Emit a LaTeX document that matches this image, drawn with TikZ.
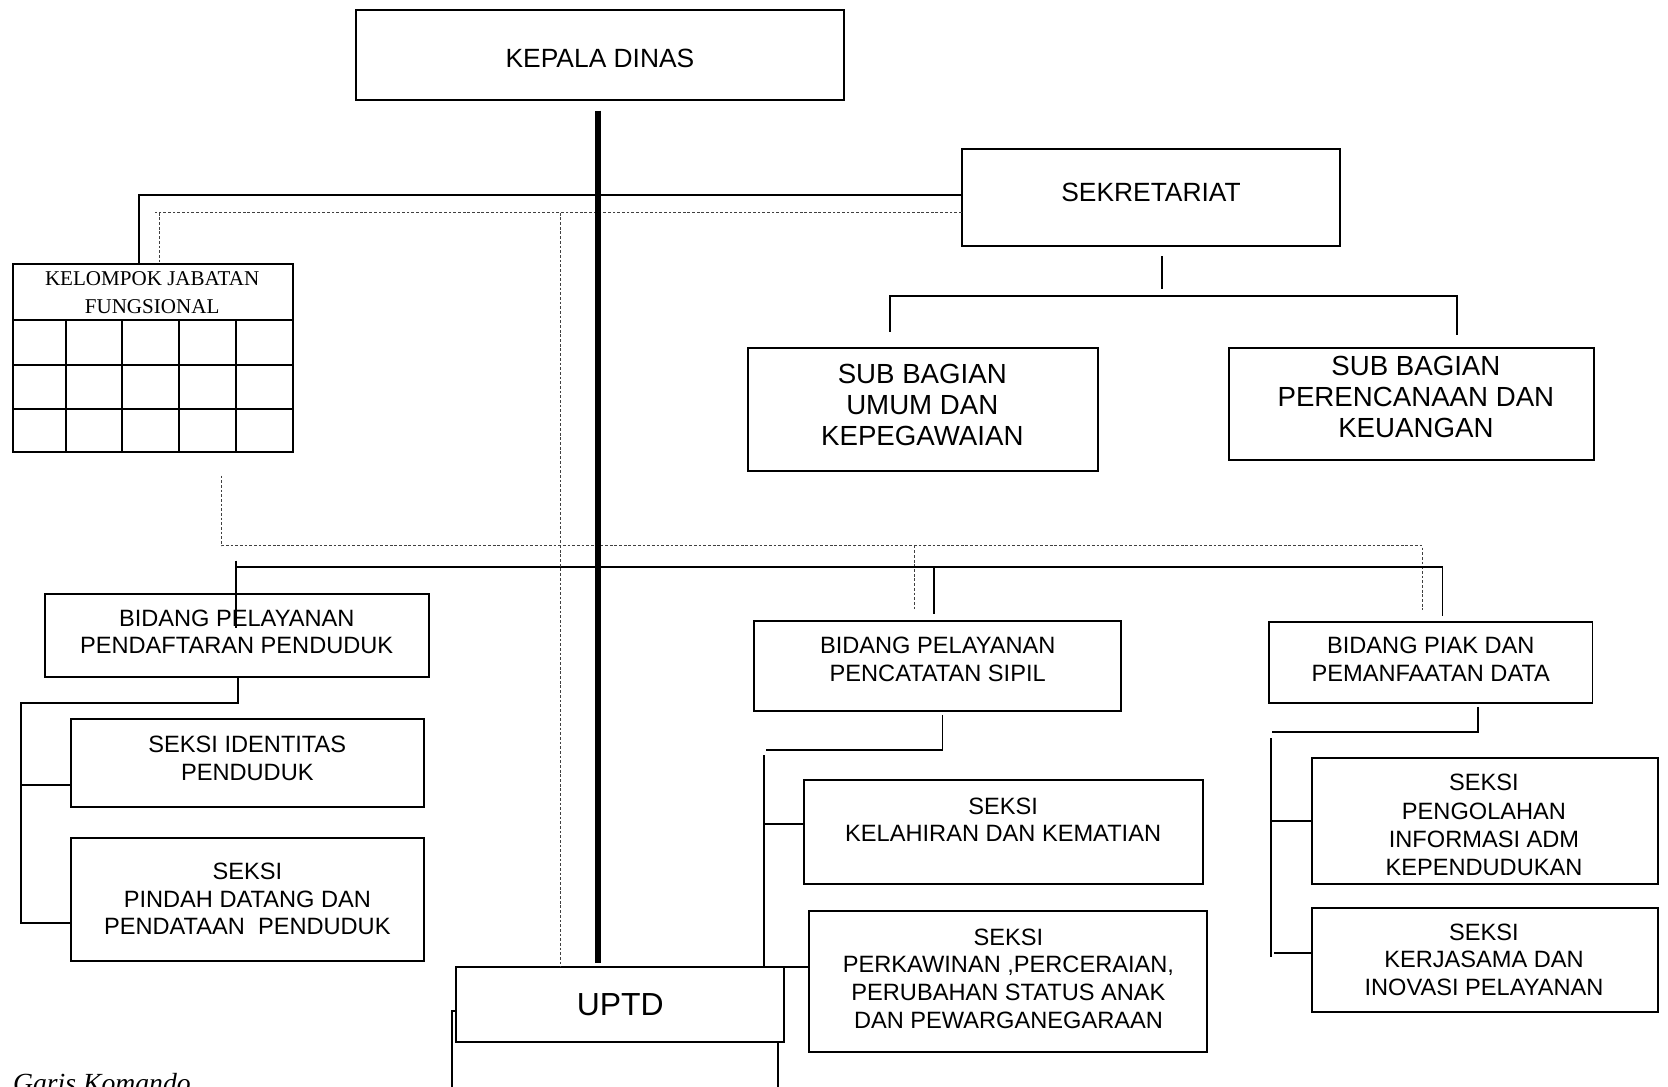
\documentclass[tikz,border=0pt]{standalone}
\usepackage{fontspec}
\setmainfont{Liberation Sans}
\newfontfamily\kjfserif{Liberation Serif}
\usetikzlibrary{calc}
\begin{document}
\begin{tikzpicture}[x=0.5pt,y=-0.5pt,
  box/.style={draw,line width=0.9pt,inner sep=0pt,outer sep=0pt},
  txt/.style={align=center,inner sep=0pt,font=\fontsize{11.1}{13}\selectfont},
  ttl/.style={inner sep=0pt,font=\fontsize{12.4}{15}\selectfont},
  subtxt/.style={align=center,inner sep=0pt,font=\fontsize{13}{14.5}\selectfont},
  conn/.style={line width=0.9pt},
  dotln/.style={line width=0.6pt,black!75,dash pattern=on 1.3pt off 0.9pt},
  heavy/.style={line width=2.8pt}]
\useasboundingbox (0,0) rectangle (1568,1021);

% ---- boxes
\node[box,minimum width=229pt,minimum height=42.5pt] (kd) at (564,51.5) {};
\node[box,minimum width=178pt,minimum height=45.5pt] (sek) at (1082,185.5) {};
\node[box,minimum width=164.5pt,minimum height=58pt] (sbu) at (867.5,385) {};
\node[box,minimum width=171.5pt,minimum height=52.5pt] (sbp) at (1326.5,379.5) {};
\node[box,minimum width=131.75pt,minimum height=88.5pt] (kjf) at (143.75,336.5) {};
\node[box,minimum width=180.5pt,minimum height=39pt] (bpd) at (222.5,597) {};
\node[box,minimum width=172.5pt,minimum height=42pt] (bpc) at (881.5,626) {};
\node[box,minimum width=152pt,minimum height=38pt] (bpiak) at (1345,623) {};
\node[box,minimum width=166.25pt,minimum height=41.3pt] (si) at (232.75,717.3) {};
\node[box,minimum width=166.25pt,minimum height=57.65pt] (sp) at (232.75,845.35) {};
\node[box,minimum width=187.5pt,minimum height=49pt] (sk) at (943.5,782) {};
\node[box,minimum width=187.25pt,minimum height=66.5pt] (spk) at (947.75,922.5) {};
\node[box,minimum width=162.8pt,minimum height=59.15pt] (spo) at (1395.8,771.85) {};
\node[box,minimum width=162.8pt,minimum height=48.7pt] (skj) at (1395.8,902.3) {};

% ---- KJF grid
\foreach \yy in {301,343,384.5} \draw[conn] (12,\yy) -- (275.5,\yy);
\foreach \xx in {62,114.5,168.5,222} \draw[conn] (\xx,301) -- (\xx,425);

% ---- texts
\node[ttl] (kdt) at (564,55) {KEPALA DINAS};
\node[ttl] (sekt) at (1082,181) {SEKRETARIAT};
\node[subtxt] (sbut) at (867,381) {SUB BAGIAN\\UMUM DAN\\KEPEGAWAIAN};
\node[subtxt] (sbpt) at (1331,373.5) {SUB BAGIAN\\PERENCANAAN DAN\\KEUANGAN};
\node[align=center,inner sep=0pt,font=\kjfserif\fontsize{9.9}{13}\selectfont] (kjft) at (143,275) {KELOMPOK JABATAN\\FUNGSIONAL};
\node[txt] (bpdt) at (222.5,594) {BIDANG PELAYANAN\\PENDAFTARAN PENDUDUK};
\node[txt] (bpct) at (881.5,620) {BIDANG PELAYANAN\\PENCATATAN SIPIL};
\node[txt] (bpiakt) at (1345,620) {BIDANG PIAK DAN\\PEMANFAATAN DATA};
\node[txt] (sit) at (232.5,712.8) {SEKSI IDENTITAS\\PENDUDUK};
\node[txt] (spt) at (232.5,845) {SEKSI\\PINDAH DATANG DAN\\PENDATAAN\ \ PENDUDUK};
\node[txt] (skt) at (943,770.5) {SEKSI\\KELAHIRAN DAN KEMATIAN};
\node[txt] (spkt) at (948,920) {SEKSI\\PERKAWINAN ,PERCERAIAN,\\PERUBAHAN STATUS ANAK\\DAN PEWARGANEGARAAN};
\node[align=center,inner sep=0pt,font=\fontsize{11.1}{13.2}\selectfont] (spot) at (1395,775.5) {SEKSI\\PENGOLAHAN\\INFORMASI ADM\\KEPENDUDUKAN};
\node[txt] (skjt) at (1395,902) {SEKSI\\KERJASAMA DAN\\INOVASI PELAYANAN};
\node[anchor=base west,inner sep=0pt,font=\kjfserif\itshape\fontsize{13}{15}\selectfont] (gk) at (12,1027) {Garis Komando};

% ---- connectors
% sekretariat to KJF (solid)
\coordinate (c1) at (131,183);
\draw[conn] (sek.west |- c1) -- (c1) -- (c1 |- kjf.north);
% dotted from sekretariat
\coordinate (d1) at (150,200);
\draw[dotln] (sek.west |- d1) -- (146,200);
\draw[dotln] (d1) -- (d1 |- kjf.north);
\coordinate (d2) at (527,200);

% sekretariat children
\coordinate (s0) at (1092,241);
\draw[conn] (s0) -- (1092,272);
\coordinate (s2) at (837,278);
\coordinate (s3) at (1370,278);
\draw[conn] ($(s2 |- sbu.north)+(0,-15)$) -- (s2) -- (s3) -- ($(s3 |- sbp.north)+(0,-12)$);

% KJF dotted to bidang
\coordinate (k1) at (208,513);
\coordinate (k2) at (860,513);
\coordinate (k3) at (1337,513);
\draw[dotln] ($(kjf.south -| k1)+(0,22)$) -- (k1) -- (k3) -- ($(k3 |- bpiak.north)+(0,-12)$);
\draw[dotln] (k2) -- ($(k2 |- bpc.north)+(0,-11)$);

% bidang bus
\coordinate (b1) at (222,533);
\coordinate (b2) at (878,533);
\coordinate (b3) at (1356,533);
\draw[conn] (b1) -- (b3) -- ($(b3 |- bpiak.north)+(0,-6)$);
\draw[conn] ($(b1)+(0,-6)$) -- ($(b1 |- bpd.north)+(0,32)$);
\draw[conn] (b2) -- ($(b2 |- bpc.north)+(0,-7)$);

% left group
\coordinate (l1) at (224,661);
\coordinate (l2) at (19.5,661);
\coordinate (l3) at (19.5,867.6);
\coordinate (l4) at (19.5,738);
\draw[conn] (l1 |- bpd.south) -- (l1) -- (l2) -- (l3) -- (l3 -| sp.west);
\draw[conn] (l4) -- (l4 -| si.west);

% middle group
\coordinate (m1) at (886,705);
\coordinate (m2) at (718,705);
\coordinate (m3) at (718,775);
\draw[conn] ($(m1 |- bpc.south)+(0,4)$) -- (m1) -- ($(m2)+(2,0)$);
\draw[conn] (m3) -- (m3 -| sk.west);

% right group
\coordinate (r1) at (1389.5,688);
\coordinate (r2) at (1195.5,688);
\coordinate (r3) at (1195,772);
\coordinate (r4) at (1197.6,896);
\draw[conn] ($(r1 |- bpiak.south)+(0,3.5)$) -- (r1) -- (r2);
\draw[conn] ($(r2)+(-0.5,6)$) -- (1195,899.5);
\draw[conn] (r3) -- (r3 -| spo.west);
\draw[conn] (r4) -- (r4 -| skj.west);

% UPTD
\node[box,fill=white,minimum width=154.2pt,minimum height=35.25pt] (uptd) at (582.8,944.25) {};
\node[inner sep=0pt,font=\fontsize{15}{17}\selectfont] (uptdt) at (583,944) {UPTD};
\draw[dotln] (d2) -- (d2 |- uptd.north);
\draw[conn] ($(m2)+(0,5)$) -- (m2 |- uptd.north) -- (spk.west |- uptd.north);
\coordinate (u1) at (425,950);
\coordinate (u2) at (731,1040);
\draw[conn] (u1 -| uptd.west) -- (u1) -- (425,1040);
\draw[conn] (u2 |- uptd.south) -- (u2);

% thick command line
\coordinate (t1) at (562,104);
\draw[heavy] (t1) -- ($(t1 |- uptd.north)+(0,-4)$);
\end{tikzpicture}
\end{document}
